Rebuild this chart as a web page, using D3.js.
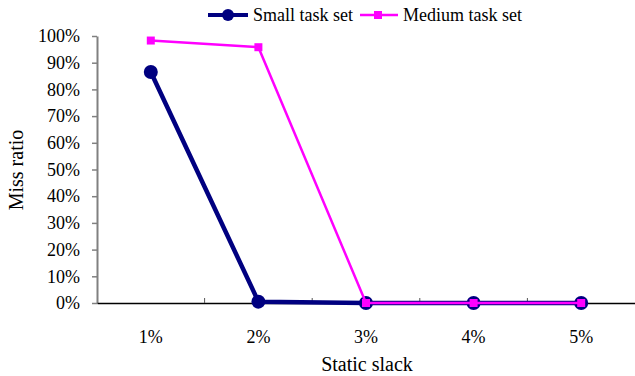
<!DOCTYPE html>
<html><head><meta charset="utf-8">
<script src="https://cdn.jsdelivr.net/npm/d3@7"></script>
<style>body{margin:0;background:#fff}svg{display:block}svg text{font-family:"Liberation Serif","Times New Roman",serif}</style>
</head><body><svg id="c" width="635" height="376"></svg>
<script>
const categories = ["1%","2%","3%","4%","5%"];
const smallTaskSet = [86.5, 0.5, 0, 0, 0];
const mediumTaskSet = [98.3, 95.8, 0, 0, 0];
const yTicks = [0,10,20,30,40,50,60,70,80,90,100];
const seriesNames = ["Small task set","Medium task set"];

const svg = d3.select("#c");
const L = 97, R = 635, T = 36, B = 303;
const x = d3.scaleBand().domain(categories).range([L, R]);
const y = d3.scaleLinear().domain([0,100]).range([B, T]);

// y axis
const ya = svg.append("g").attr("transform",`translate(${L},0)`)
  .call(d3.axisLeft(y).tickValues(yTicks).tickFormat(d=>d+"%").tickSize(5).tickSizeOuter(0));
ya.attr("font-family",null).attr("font-size",null);
ya.select(".domain").attr("stroke","#808080").attr("stroke-width",2);
ya.selectAll(".tick line").attr("stroke","#808080").attr("stroke-width",1.5);
ya.selectAll(".tick text").style("font-size","18px").attr("fill","#000").attr("x",-17);

// x axis
const xa = svg.append("g").attr("transform",`translate(0,${B})`)
  .call(d3.axisBottom(x).tickSize(0).tickPadding(27));
xa.attr("font-family",null).attr("font-size",null);
xa.select(".domain").attr("stroke","#000").attr("stroke-width",1.5);
xa.selectAll(".tick text").style("font-size","18px").attr("fill","#000");
// boundary tick marks (inside)
const bounds = categories.slice(1).map(c => x(c));
svg.append("g").selectAll("line").data(bounds).join("line")
  .attr("x1",d=>d).attr("x2",d=>d).attr("y1",B).attr("y2",B-5)
  .attr("stroke","#555").attr("stroke-width",1);

const cx = c => x(c) + x.bandwidth()/2;
const line = d3.line().x((d,i)=>cx(categories[i])).y(d=>y(d));

const navy = "#000080", mag = "#ff00ff";
svg.append("path").datum(smallTaskSet).attr("d",line).attr("fill","none")
  .attr("stroke",navy).attr("stroke-width",4.5).attr("stroke-linejoin","round");
svg.append("g").selectAll("circle").data(smallTaskSet).join("circle")
  .attr("cx",(d,i)=>cx(categories[i])).attr("cy",d=>y(d)).attr("r",7).attr("fill",navy);

svg.append("path").datum(mediumTaskSet).attr("d",line).attr("fill","none")
  .attr("stroke",mag).attr("stroke-width",2.5);
svg.append("g").selectAll("rect").data(mediumTaskSet).join("rect")
  .attr("x",(d,i)=>cx(categories[i])-4).attr("y",d=>y(d)-4).attr("width",8).attr("height",8).attr("fill",mag);

// legend
const lg = svg.append("g");
lg.append("line").attr("x1",208).attr("x2",248).attr("y1",15).attr("y2",15).attr("stroke",navy).attr("stroke-width",4);
lg.append("circle").attr("cx",228).attr("cy",15).attr("r",6).attr("fill",navy);
lg.append("text").attr("x",253).attr("y",21).style("font-size","18px").text(seriesNames[0]);
lg.append("line").attr("x1",360).attr("x2",398).attr("y1",15).attr("y2",15).attr("stroke",mag).attr("stroke-width",2.5);
lg.append("rect").attr("x",374).attr("y",11).attr("width",8).attr("height",8).attr("fill",mag);
lg.append("text").attr("x",403).attr("y",21).style("font-size","18px").text(seriesNames[1]);

// titles
svg.append("text").attr("x",367).attr("y",371).attr("text-anchor","middle").style("font-size","20px").text("Static slack");
svg.append("text").attr("transform","translate(23,170) rotate(-90)").attr("text-anchor","middle").style("font-size","20px").text("Miss ratio");
</script></body></html>
